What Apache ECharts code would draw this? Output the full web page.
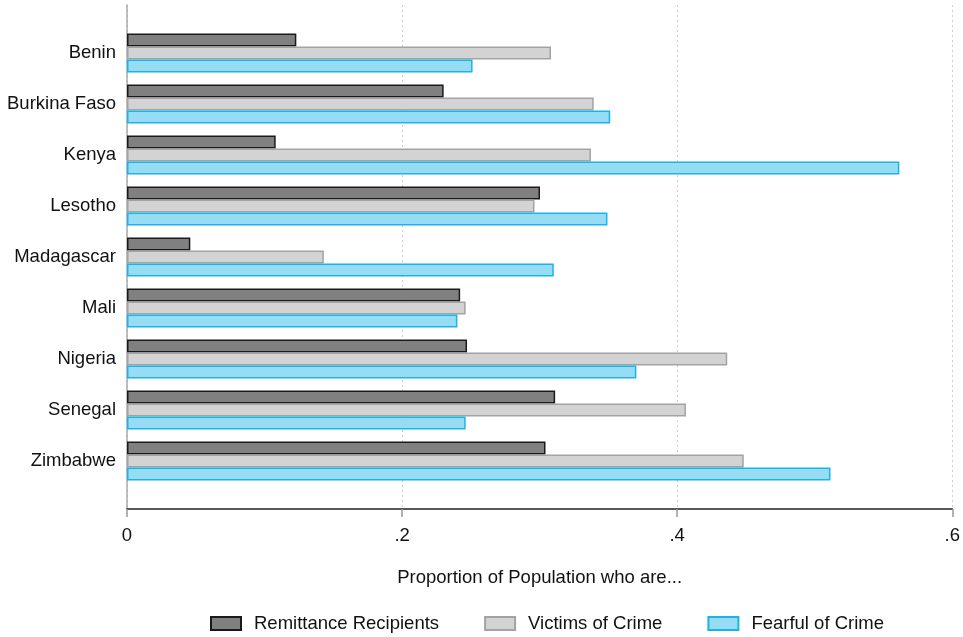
<!DOCTYPE html>
<html>
<head>
<meta charset="utf-8">
<script src="https://cdn.jsdelivr.net/npm/echarts@6/dist/echarts.min.js"></script>
<style>html,body{margin:0;padding:0;background:#fff}#c{width:963px;height:637px}</style>
</head>
<body>
<div id="c"></div>
<script>
const categories = ['Benin','Burkina Faso','Kenya','Lesotho','Madagascar','Mali','Nigeria','Senegal','Zimbabwe'];
const remittance = [0.123,0.230,0.108,0.300,0.046,0.242,0.247,0.311,0.304];
const victims    = [0.308,0.339,0.337,0.296,0.143,0.246,0.436,0.406,0.448];
const fearful    = [0.251,0.351,0.561,0.349,0.310,0.240,0.370,0.246,0.511];
const xTicks = [0, 0.2, 0.4, 0.6];
const seriesNames = ['Remittance Recipients','Victims of Crime','Fearful of Crime'];

const font = 'Liberation Sans, Arial, sans-serif';
const fs = 18.5;
const fills = ['#808080','#d3d3d3','#97dcf5'];
const borders = ['#1a1a1a','#a3a3a3','#1ab3ea'];
const vals = [remittance, victims, fearful];

const chart = echarts.init(document.getElementById('c'), null, {renderer:'canvas'});
const fmt = v => v === 0 ? '0' : String(v).replace(/^0/, '');

chart.setOption({
  animation:false,
  backgroundColor:'#fff',
  textStyle:{fontFamily:font},
  grid:[
    {left:127, right:10, top:27.5, bottom:150.5},
    {left:127, right:10, top:5, bottom:128}
  ],
  xAxis:[
    {gridIndex:0, type:'value', min:0, max:0.6, show:false},
    {gridIndex:1, type:'value', min:0, max:0.6, interval:0.2,
     axisLine:{show:true, lineStyle:{color:'#222', width:1.5}},
     axisTick:{show:true, length:8, lineStyle:{color:'#999', width:1.5}},
     axisLabel:{color:'#111', fontSize:fs, margin:17, fontFamily:font, formatter:fmt},
     splitLine:{show:true, lineStyle:{color:'#cfcfcf', type:[2,3], width:1}},
     name:'Proportion of Population who are...', nameLocation:'middle', nameGap:59,
     nameTextStyle:{color:'#111', fontSize:fs, fontFamily:font}}
  ],
  yAxis:[
    {gridIndex:0, type:'category', data:categories, inverse:true,
     axisLine:{show:false}, axisTick:{show:false},
     axisLabel:{color:'#111', fontSize:fs, margin:11, fontFamily:font, padding:[3,0,0,0]}},
    {gridIndex:1, type:'value', min:0, max:1,
     axisLine:{show:true, lineStyle:{color:'#aaa', width:1.5}},
     axisTick:{show:false}, axisLabel:{show:false}, splitLine:{show:false}}
  ],
  legend:{
    bottom:-1, left:205, itemWidth:30, itemHeight:13, itemGap:45,
    icon:'rect',
    textStyle:{color:'#111', fontSize:fs, fontFamily:font, padding:[0,0,0,8]},
    data:seriesNames
  },
  series: seriesNames.map((n,i)=>({
    name:n, type:'bar', xAxisIndex:0, yAxisIndex:0,
    data: vals[i], barWidth:13, barGap:'0%',
    itemStyle:{color:fills[i], borderColor:borders[i], borderWidth:1.5}
  }))
});
</script>
</body>
</html>
